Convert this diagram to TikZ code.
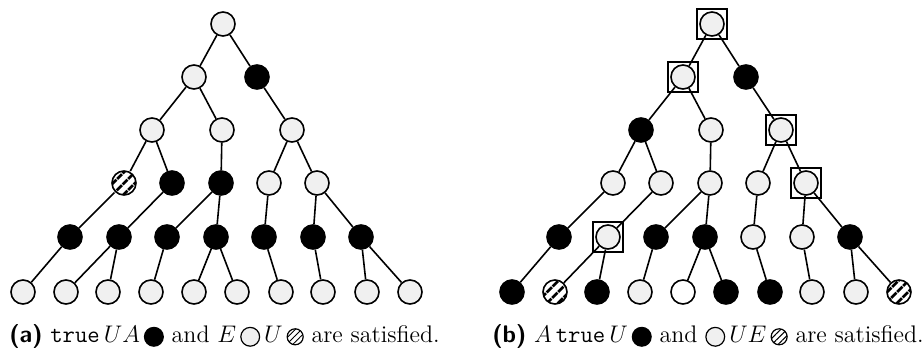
\documentclass[tikz,border=0pt]{standalone}
\usepackage{fontspec}
\usepackage{amsmath}
\usepackage{tikz}
\usetikzlibrary{patterns.meta}

% small circles used inside the captions
\newcommand{\blackdot}{\tikz[baseline=-0.6ex]\draw[line width=0.6pt, fill=black] (0,0) circle (4.7pt);}
\newcommand{\greydot}{\tikz[baseline=-0.6ex]\draw[line width=0.6pt, fill=black!6] (0,0) circle (4.7pt);}
\newcommand{\hatchdot}{\tikz[baseline=-0.6ex]\draw[line width=0.6pt, pattern={Lines[angle=45, distance=2.2pt, line width=0.5pt]}] (0,0) circle (4pt);}

\begin{document}
\begin{tikzpicture}[x=0.5pt, y=-0.5pt, line width=0.8pt]

  % Define styles for the different states
  \tikzstyle{light} = [draw, circle, minimum size=12pt, inner sep=0pt, fill=black!6]
  \tikzstyle{dark} = [light, fill=black]
  \tikzstyle{blank} = [light, fill=white]
  \tikzstyle{hatched} = [draw, circle, minimum size=12pt, inner sep=0pt, pattern={Lines[angle=45, distance=4pt, line width=1.5pt]}]
  \tikzstyle{marked} = [draw, rectangle, minimum size=15pt, inner sep=0pt, line width=1.4pt]
  \tikzstyle{caption} = [anchor=base west, inner sep=0pt, font=\fontsize{12}{14}\selectfont]

  \useasboundingbox (0,0) rectangle (922,351);

  % tree (a)
  \node[light] (a01) at (223,24) {};
  \node[light] (a11) at (194,77) {};
  \node[dark] (a12) at (257,77) {};
  \node[light] (a21) at (152,130) {};
  \node[light] (a22) at (222,130) {};
  \node[light] (a23) at (292,130) {};
  \node[hatched] (a31) at (124,183) {};
  \node[dark] (a32) at (172,183) {};
  \node[dark] (a33) at (221,183) {};
  \node[light] (a34) at (269,183) {};
  \node[light] (a35) at (317,183) {};
  \node[dark] (a41) at (70,237) {};
  \node[dark] (a42) at (119,237) {};
  \node[dark] (a43) at (167,237) {};
  \node[dark] (a44) at (216,237) {};
  \node[dark] (a45) at (264,237) {};
  \node[dark] (a46) at (313,237) {};
  \node[dark] (a47) at (361,237) {};
  \node[light] (a51) at (23,292) {};
  \node[light] (a52) at (66,292) {};
  \node[light] (a53) at (108,292) {};
  \node[light] (a54) at (151,292) {};
  \node[light] (a55) at (194,292) {};
  \node[light] (a56) at (237,292) {};
  \node[light] (a57) at (281,292) {};
  \node[light] (a58) at (323,292) {};
  \node[light] (a59) at (367,292) {};
  \node[light] (a510) at (410,292) {};

  \draw (a01) -- (a11) (a01) -- (a12);
  \draw (a11) -- (a21) (a11) -- (a22) (a12) -- (a23);
  \draw (a21) -- (a31) (a21) -- (a32) (a22) -- (a33) (a23) -- (a34) (a23) -- (a35);
  \draw (a31) -- (a41) (a32) -- (a42) (a33) -- (a43) (a33) -- (a44) (a34) -- (a45) (a35) -- (a46) (a35) -- (a47);
  \draw (a41) -- (a51) (a42) -- (a52) (a42) -- (a53) (a43) -- (a54) (a44) -- (a55) (a44) -- (a56);
  \draw (a45) -- (a57) (a46) -- (a58) (a47) -- (a59) (a47) -- (a510);

  % tree (b)
  \begin{scope}[xshift=244.5pt]
    \node[light] (b01) at (223,24) {};
    \node[light] (b11) at (194,77) {};
    \node[dark] (b12) at (257,77) {};
    \node[dark] (b21) at (152,130) {};
    \node[light] (b22) at (222,130) {};
    \node[light] (b23) at (292,130) {};
    \node[light] (b31) at (124,183) {};
    \node[light] (b32) at (172,183) {};
    \node[light] (b33) at (221,183) {};
    \node[light] (b34) at (269,183) {};
    \node[light] (b35) at (317,183) {};
    \node[dark] (b41) at (70,237) {};
    \node[light] (b42) at (119,237) {};
    \node[dark] (b43) at (167,237) {};
    \node[dark] (b44) at (216,237) {};
    \node[light] (b45) at (264,237) {};
    \node[light] (b46) at (313,237) {};
    \node[dark] (b47) at (361,237) {};
    \node[dark] (b51) at (23,292) {};
    \node[hatched] (b52) at (66,292) {};
    \node[dark] (b53) at (108,292) {};
    \node[light] (b54) at (151,292) {};
    \node[blank] (b55) at (194,292) {};
    \node[dark] (b56) at (237,292) {};
    \node[dark] (b57) at (281,292) {};
    \node[light] (b58) at (323,292) {};
    \node[light] (b59) at (367,292) {};
    \node[hatched] (b510) at (410,292) {};
  \end{scope}

  \draw (b01) -- (b11) (b01) -- (b12);
  \draw (b11) -- (b21) (b11) -- (b22) (b12) -- (b23);
  \draw (b21) -- (b31) (b21) -- (b32) (b22) -- (b33) (b23) -- (b34) (b23) -- (b35);
  \draw (b31) -- (b41) (b32) -- (b42) (b33) -- (b43) (b33) -- (b44) (b34) -- (b45) (b35) -- (b46) (b35) -- (b47);
  \draw (b41) -- (b51) (b42) -- (b52) (b42) -- (b53) (b43) -- (b54) (b44) -- (b55) (b44) -- (b56);
  \draw (b45) -- (b57) (b46) -- (b58) (b47) -- (b59) (b47) -- (b510);

  % boxes round the marked nodes
  \node[marked] (m01) at (b01) {};
  \node[marked] (m11) at (b11) {};
  \node[marked] (m23) at (b23) {};
  \node[marked] (m35) at (b35) {};
  \node[marked] (m42) at (b42) {};

  % captions
  \node[caption] (capa) at (9,343) {\textsf{\textbf{(a)}} \texttt{true}\,$UA$\,\blackdot\ and $E$\,\greydot\,$U$\,\hatchdot\ are satisfied.};
  \node[caption] (capb) at (492,343) {\textsf{\textbf{(b)}} $A$\,\texttt{true}\,$U$\,\blackdot\ and \greydot\,$UE$\,\hatchdot\ are satisfied.};

\end{tikzpicture}
\end{document}
